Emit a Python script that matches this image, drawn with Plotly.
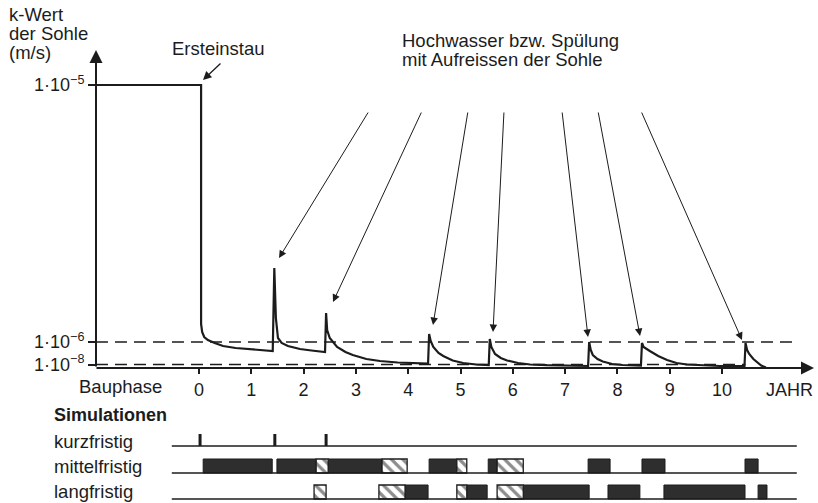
import plotly.graph_objects as go

# ---------------- data (schematic units) ----------------
level_labels = ["1·10<sup>−5</sup>", "1·10<sup>−6</sup>", "1·10<sup>−8</sup>"]
level_values = [283, 26, 3.5]
year_ticks = [0, 1, 2, 3, 4, 5, 6, 7, 8, 9, 10]

curve_year = [-1.97, 0.04,
              0.04, 0.06, 0.10, 0.17, 0.30, 0.46, 0.70, 0.95, 1.20, 1.41,
              1.44, 1.47, 1.51, 1.58, 1.70, 1.93, 2.15, 2.41,
              2.43, 2.45, 2.50, 2.64, 2.80, 2.94, 3.20, 3.46, 3.80, 4.09, 4.38,
              4.40, 4.43, 4.48, 4.58, 4.67, 4.85, 5.05, 5.30, 5.54,
              5.56, 5.59, 5.66, 5.77, 5.89, 6.10, 6.33, 6.65, 6.96, 7.44,
              7.46, 7.49, 7.53, 7.62, 7.72, 7.90, 8.10, 8.45,
              8.47, 8.50, 8.62, 8.78, 8.95, 9.13, 9.33, 9.65, 9.96, 10.43,
              10.45, 10.48, 10.52, 10.60, 10.67, 10.75, 10.84]
curve_k = [283, 283,
           44, 36, 31, 28, 25, 22, 20, 19, 18, 17,
           100, 50, 30, 25, 22, 19, 17.5, 16,
           55, 38, 30, 21, 16, 13, 9, 7, 5.5, 5, 4.5,
           34, 27, 21, 15, 12, 7.5, 5, 3.5, 3,
           29, 21, 14, 10, 7.5, 5, 3.5, 2.8, 2.5, 2,
           26, 18, 13, 9, 6.5, 4, 3, 2.3,
           25, 21, 17, 12, 8, 5, 3.5, 2.5, 2, 2,
           25, 18, 14, 9, 5.5, 2.5, 0.5]

axis_start_year = -1.97
upper_dash_end = 11.43
lower_dash_end = 10.45

row_names = ["kurzfristig", "mittelfristig", "langfristig"]
row_start = -0.52
row_end = 11.43

kurz_events = [0.02, 1.45, 2.43]

mittel_dark_start = [0.08, 1.49, 2.47, 4.40, 5.53, 7.44, 8.47, 10.44]
mittel_dark_end = [1.40, 2.24, 3.50, 4.93, 5.70, 7.86, 8.91, 10.69]
mittel_hatch_start = [2.24, 3.50, 4.93, 5.70]
mittel_hatch_end = [2.47, 3.98, 5.12, 6.20]

lang_dark_start = [3.94, 5.12, 6.20, 7.82, 8.89, 10.69]
lang_dark_end = [4.38, 5.51, 7.46, 8.43, 10.44, 10.86]
lang_hatch_start = [2.20, 3.44, 4.93, 5.70]
lang_hatch_end = [2.43, 3.94, 5.12, 6.20]

# ---------------- layout helpers ----------------
W, H = 818, 503
X0_PX, X_PER_YEAR = 199.0, 52.3
Y0_PX = 368.0
x_lo = (0 - X0_PX) / X_PER_YEAR
x_hi = (W - X0_PX) / X_PER_YEAR
y_lo = Y0_PX - H
y_hi = Y0_PX


def xd(px):
    return (px - X0_PX) / X_PER_YEAR


def yd(py):
    return Y0_PX - py


INK = "#1c1c1c"
FONT = "Liberation Sans, Arial, Helvetica, sans-serif"

# row geometry (schematic units)
kurz_base = -78
tick_h = 12
mittel_base, lang_base = -105, -131
bar_h = 14

fig = go.Figure()

# dashed reference levels
fig.add_trace(go.Scatter(x=[axis_start_year, upper_dash_end], y=[level_values[1]] * 2,
                         mode="lines", line=dict(color=INK, width=1.4, dash="12px,7px"),
                         hoverinfo="skip", showlegend=False))
fig.add_trace(go.Scatter(x=[axis_start_year, lower_dash_end], y=[level_values[2]] * 2,
                         mode="lines", line=dict(color=INK, width=1.4, dash="12px,7px"),
                         hoverinfo="skip", showlegend=False))

# k-value curve
fig.add_trace(go.Scatter(x=curve_year, y=curve_k, mode="lines",
                         line=dict(color=INK, width=2.2), hoverinfo="skip", showlegend=False))

# row baselines
for base in [kurz_base, mittel_base, lang_base]:
    fig.add_trace(go.Scatter(x=[row_start, row_end], y=[base, base], mode="lines",
                             line=dict(color=INK, width=1.6), hoverinfo="skip", showlegend=False))

# short-term events (ticks)
kx, ky = [], []
for e in kurz_events:
    kx += [e, e, None]
    ky += [kurz_base, kurz_base + tick_h, None]
fig.add_trace(go.Scatter(x=kx, y=ky, mode="lines", line=dict(color=INK, width=3),
                         hoverinfo="skip", showlegend=False))


def add_bars(starts, ends, center, hatched):
    lengths = [e - s for s, e in zip(starts, ends)]
    if hatched:
        marker = dict(color="white", line=dict(color=INK, width=1.3),
                      pattern=dict(shape="\\", fgcolor=INK, bgcolor="white", size=8, solidity=0.4))
    else:
        marker = dict(color="#2e2e2e", line=dict(color=INK, width=1))
    fig.add_trace(go.Bar(orientation="h", y=[center] * len(starts), x=lengths, base=starts,
                         width=bar_h, marker=marker, hoverinfo="skip", showlegend=False))


add_bars(mittel_dark_start, mittel_dark_end, mittel_base + bar_h / 2, False)
add_bars(mittel_hatch_start, mittel_hatch_end, mittel_base + bar_h / 2, True)
add_bars(lang_dark_start, lang_dark_end, lang_base + bar_h / 2, False)
add_bars(lang_hatch_start, lang_hatch_end, lang_base + bar_h / 2, True)

ann = []


def text(s, px, py, size=18.5, xanchor="left", bold=False):
    ann.append(dict(text=f"<b>{s}</b>" if bold else s, x=xd(px), y=yd(py), xref="x", yref="y",
                    showarrow=False, xanchor=xanchor, yanchor="middle",
                    font=dict(family=FONT, size=size, color=INK)))


def arrow(tail, head, width=1.0, size=1.4, head_style=2):
    ann.append(dict(text="", x=xd(head[0]), y=yd(head[1]), ax=xd(tail[0]), ay=yd(tail[1]),
                    xref="x", yref="y", axref="x", ayref="y", showarrow=True,
                    arrowhead=head_style, arrowsize=size, arrowwidth=width, arrowcolor=INK,
                    standoff=0, startstandoff=0))


# axes drawn as arrows
arrow((96, 368), (96, 50), width=2, size=1.3)
arrow((95, 368), (814, 368), width=2, size=1.3)

# labels
text("k-Wert", 7, 14)
text("der Sohle", 7, 33)
text("(m/s)", 7, 52)
text("Ersteinstau", 170, 48)
text("Hochwasser bzw. Spülung", 400, 40)
text("mit Aufreissen der Sohle", 400, 59)
text("Bauphase", 120, 386, xanchor="center")
text("JAHR", 789, 390, size=18, xanchor="center")
text("Simulationen", 52, 415, size=18, bold=True)
text(row_names[0], 52, 441)
text(row_names[1], 52, 466)
text(row_names[2], 52, 491)

# annotation arrows
arrow((222, 62), (203, 80), width=1.3, size=1.3)
for tail, head in [((369, 111), (279, 258)), ((422, 111), (333, 302)), ((468, 111), (433, 325)),
                   ((504, 111), (493, 332)), ((562, 111), (588, 337)), ((598, 111), (640, 336)),
                   ((641, 111), (742, 340))]:
    arrow(tail, head, width=1.0, size=1.5)

fig.update_layout(
    width=W, height=H, margin=dict(l=0, r=0, t=0, b=0, pad=0),
    paper_bgcolor="white", plot_bgcolor="white", barmode="overlay",
    showlegend=False, annotations=ann,
    font=dict(family=FONT, color=INK),
    xaxis=dict(range=[x_lo, x_hi], domain=[0, 1], anchor="free", position=1 - Y0_PX / H,
               showgrid=False, zeroline=False, showline=False,
               tickmode="array", tickvals=year_ticks, ticktext=[str(t) for t in year_ticks],
               ticks="outside", ticklen=5, tickwidth=1.5, tickcolor=INK,
               tickfont=dict(family=FONT, size=18, color=INK)),
    yaxis=dict(range=[y_lo, y_hi], domain=[0, 1], anchor="free", position=96 / W,
               showgrid=False, zeroline=False, showline=False,
               tickmode="array", tickvals=level_values, ticktext=level_labels,
               ticks="outside", ticklen=8, tickwidth=1.5, tickcolor=INK,
               tickfont=dict(family=FONT, size=18, color=INK)),
)

fig.write_html("out.html")
